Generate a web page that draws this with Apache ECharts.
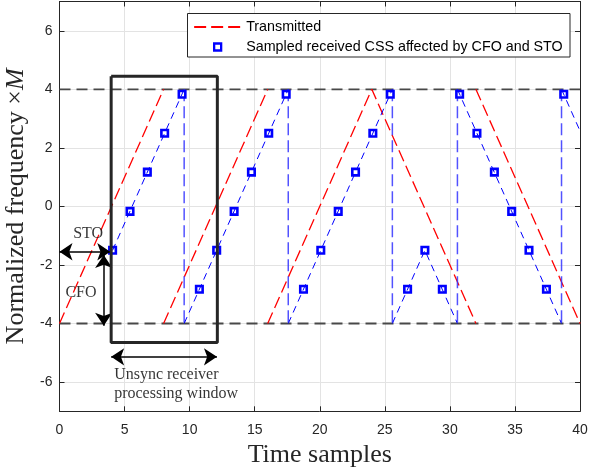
<!DOCTYPE html>
<html>
<head>
<meta charset="utf-8">
<script src="https://cdn.jsdelivr.net/npm/echarts@6/dist/echarts.min.js"></script>
<style>
  html, body { margin: 0; padding: 0; background: #fff; }
  #chart { width: 591px; height: 468px; }
</style>
</head>
<body>
<div id="chart"></div>
<script>
// Transmitted chirp sequence: three up-chirps then two down-chirps (null = break)
const txX = [0, 8, 8, 8, 16, 16, 16, 24, 32, 32, 32, 40];
const txY = [-4, 4, null, -4, 4, null, -4, 4, -4, null, 4, -4];

// Received chirp trace (shifted by CFO and STO), sloped parts
const rxX = [4.08, 9.58, null, 9.58, 17.58, null, 17.58, 25.58, null, 25.58, 28.08, 30.58, null, 30.58, 38.58, null, 38.58, 40];
const rxY = [-1.5, 4, null, -4, 4, null, -4, 4, null, -4, -1.5, -4, null, 4, -4, null, 4, 2.58];

// Frequency wrap-around instants of the received signal
const wrapX = [9.58, 17.58, 25.58, 30.58, 38.58];
const wrapTop = 4;
const wrapBottom = -4;

// Samples taken by the unsynchronised receiver
const sampleX = [4.08, 5.42, 6.75, 8.08, 9.42, 10.75, 12.08, 13.42, 14.75, 16.08, 17.42, 18.75, 20.08, 21.42,
                 22.75, 24.08, 25.42, 26.75, 28.08, 29.42, 30.75, 32.08, 33.42, 34.75, 36.08, 37.42, 38.75];
const sampleY = [-1.5, -0.17, 1.17, 2.5, 3.83, -2.83, -1.5, -0.17, 1.17, 2.5, 3.83, -2.83, -1.5, -0.17,
                 1.17, 2.5, 3.83, -2.83, -1.5, -2.83, 3.83, 2.5, 1.17, -0.17, -1.5, -2.83, 3.83];

// Bandwidth limits
const bandLimits = [4, -4];
const xRange = [0, 40];

// Receiver processing window and offset markers
const windowX = [3.97, 12.13];
const windowY = [-4.65, 4.45];
const stoArrow = [[0, -1.55], [3.9, -1.55]];
const cfoArrow = [[3.4, -1.66], [3.4, -4.08]];
const windowArrow = [[3.97, -5.14], [12.1, -5.14]];

// Axis ticks
const yTicks = [-6, -4, -2, 0, 2, 4, 6];

// Annotation texts
const notes = [
  { name: 'STO', value: [2.2, -0.92], align: 'center' },
  { name: 'CFO', value: [1.65, -2.95], align: 'center' },
  { name: 'Unsync receiver', value: [4.2, -5.77], align: 'left' },
  { name: 'processing window', value: [4.2, -6.4], align: 'left' }
];

const SAMPLED = 'Sampled received CSS affected by CFO and STO';
const zip = (xs, ys) => xs.map((x, i) => [x, ys[i] === null ? '-' : ys[i]]);

const bandData = [];
bandLimits.forEach((y, i) => {
  if (i > 0) bandData.push([xRange[1], '-']);
  bandData.push([xRange[0], y], [xRange[1], y]);
});

const wrapData = [];
wrapX.forEach((x, i) => {
  if (i > 0) wrapData.push([x, '-']);
  wrapData.push([x, wrapTop], [x, wrapBottom]);
});

const windowData = [
  [windowX[0], windowY[1]], [windowX[1], windowY[1]],
  [windowX[1], windowY[0]], [windowX[0], windowY[0]], [windowX[0], windowY[1]]
];

const axisColor = '#262626';
const tickFont = { fontFamily: 'Liberation Sans', fontSize: 14, color: axisColor };
const frameLine = { show: true, onZero: false, lineStyle: { color: axisColor, width: 1 } };
const innerTick = { show: true, inside: true, length: 5, lineStyle: { color: axisColor } };

// Legend marker: a small square centred in the legend icon box
const squareIcon = 'path://M0,0M47,9M20,1L27,1L27,8L20,8Z';

const chart = echarts.init(document.getElementById('chart'), null, { renderer: 'canvas' });
chart.setOption({
  animation: false,
  backgroundColor: '#fff',
  grid: { left: 59.5, right: 11, top: 1.5, bottom: 56.7, containLabel: false, outerBoundsMode: 'none' },
  xAxis: [{
    type: 'value', min: 0, max: 40, interval: 5, position: 'bottom',
    name: 'Time samples', nameLocation: 'middle', nameGap: 31,
    nameTextStyle: { fontFamily: 'Liberation Serif', fontSize: 26, color: axisColor },
    axisLine: frameLine, axisTick: innerTick,
    axisLabel: Object.assign({ margin: 12 }, tickFont),
    splitLine: { show: true, lineStyle: { color: '#e3e3e3', width: 1 } }
  }, {
    type: 'value', min: 0, max: 40, interval: 5, position: 'top',
    axisLine: frameLine, axisTick: innerTick,
    axisLabel: { show: false }, splitLine: { show: false }
  }],
  yAxis: [{
    type: 'value', min: -7, max: 7, position: 'left',
    name: '{a|Normalized frequency ×}{m|M}', nameLocation: 'middle', nameGap: 29,
    nameTextStyle: {
      fontFamily: 'Liberation Serif', fontSize: 26, color: axisColor,
      rich: {
        a: { fontFamily: 'Liberation Serif', fontSize: 26, color: axisColor },
        m: { fontFamily: 'Liberation Serif', fontSize: 26, fontStyle: 'italic', color: axisColor }
      }
    },
    axisLine: frameLine,
    axisTick: Object.assign({ customValues: yTicks }, innerTick),
    axisLabel: Object.assign({ margin: 7, customValues: yTicks }, tickFont),
    splitLine: { show: true, lineStyle: { color: '#e3e3e3', width: 1 } }
  }, {
    type: 'value', min: -7, max: 7, position: 'right',
    axisLine: frameLine,
    axisTick: Object.assign({ customValues: yTicks }, innerTick),
    axisLabel: { show: false, customValues: yTicks }, splitLine: { show: false }
  }],
  legend: {
    z: 10, left: 193, top: 19, orient: 'vertical', padding: 0,
    itemWidth: 47, itemHeight: 9, itemGap: 4,
    textStyle: { fontFamily: 'Liberation Sans', fontSize: 14.3, color: '#000', lineHeight: 16 },
    data: [
      { name: 'Transmitted', itemStyle: { opacity: 0 } },
      { name: SAMPLED, icon: squareIcon, itemStyle: { color: '#fff', borderColor: '#0000ff', borderWidth: 2.3 } }
    ]
  },
  graphic: [{
    type: 'rect', z: 5,
    shape: { x: 187.5, y: 13.5, width: 382.5, height: 43.5 },
    style: { fill: '#fff', stroke: axisColor, lineWidth: 1 }
  }],
  series: [
    {
      name: 'band', type: 'line', data: bandData, symbol: 'none', silent: true, z: 1,
      lineStyle: { color: '#484848', width: 1.8, type: [11, 6] }
    },
    {
      name: 'Transmitted', type: 'line', data: zip(txX, txY), symbol: 'none', z: 3,
      connectNulls: false, itemStyle: { color: '#ff0000' },
      lineStyle: { color: '#ff0000', width: 1.3, type: [12, 5] }
    },
    {
      name: 'wrap', type: 'line', data: wrapData, symbol: 'none', silent: true, z: 3,
      lineStyle: { color: '#3434ff', width: 1.5, opacity: 0.85, type: [12, 5] }
    },
    {
      name: SAMPLED, type: 'scatter', data: zip(sampleX, sampleY), z: 4,
      symbol: 'rect', symbolSize: 6.5,
      itemStyle: { color: '#fff', borderColor: '#0000ff', borderWidth: 2.6, opacity: 1 }
    },
    {
      name: 'rxTrace', type: 'line', data: zip(rxX, rxY), symbol: 'none', silent: true, z: 5,
      connectNulls: false,
      lineStyle: { color: '#0000ff', width: 1, type: [7, 5] }
    },
    {
      name: 'window', type: 'line', data: windowData, symbol: 'none', silent: true, z: 6,
      lineStyle: { color: '#262626', width: 3 },
      markLine: {
        silent: true, symbol: ['arrow', 'arrow'], symbolSize: 13,
        label: { show: false },
        lineStyle: { color: '#000', width: 1.5, type: 'solid' },
        data: [stoArrow, cfoArrow, windowArrow].map(a => [{ coord: a[0] }, { coord: a[1] }])
      }
    },
    {
      name: 'notes', type: 'scatter', symbolSize: 0, silent: true, z: 7,
      data: notes.map(n => ({
        name: n.name, value: n.value,
        label: {
          show: true, formatter: '{b}',
          position: n.align === 'left' ? 'right' : 'inside', distance: 0,
          fontFamily: 'Liberation Serif', fontSize: 16, color: '#000'
        }
      }))
    }
  ]
});
</script>
</body>
</html>
